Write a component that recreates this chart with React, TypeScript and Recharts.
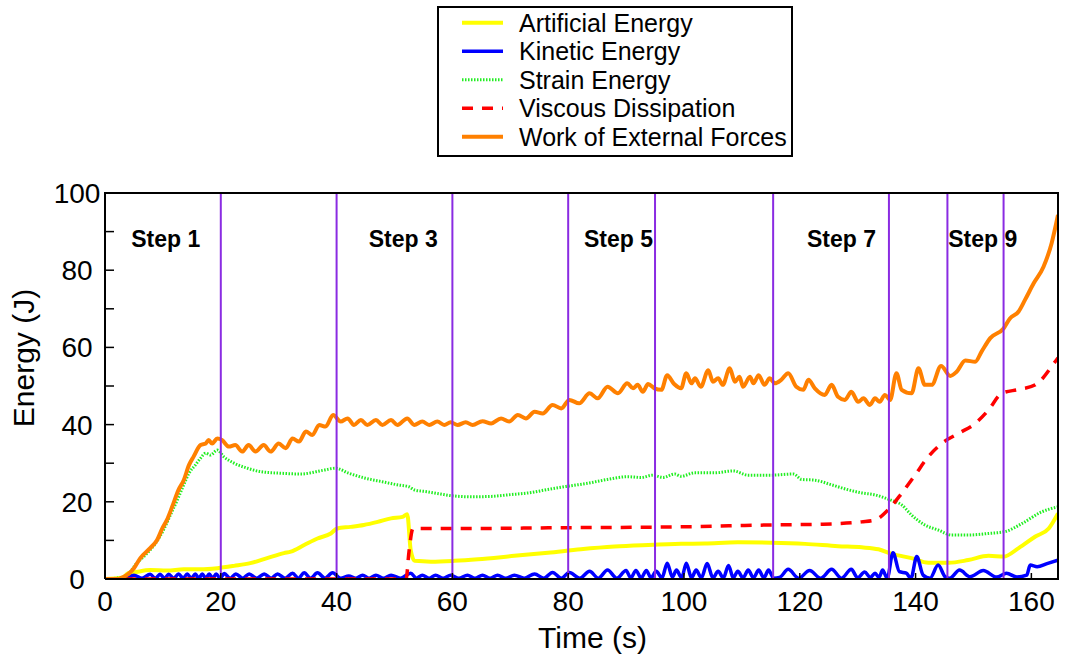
import React from 'react';
import {
  LineChart,
  Line,
  XAxis,
  YAxis,
  ReferenceLine,
  ReferenceDot,
} from 'recharts';

const FONT = '"Liberation Sans", Arial, Helvetica, sans-serif';

// [time (s), energy (J)]
const artificialEnergy = [
  [0, 0], [3.0, 0.3], [4.0, 1.5], [5.0, 1.7], [7.8, 2.3], [10.7, 2.2], [13.6, 2.5], [16.5, 2.5],
  [19.4, 2.8], [22.3, 3.4], [25.1, 4.1], [28.0, 5.4], [30.9, 6.7], [32.1, 7.1], [34.4, 8.8],
  [36.7, 10.5], [39.0, 11.8], [40.1, 13.1], [42.4, 13.5], [44.7, 14.0], [47.1, 14.8], [49.4, 15.7],
  [51.4, 16.1], [52.2, 16.8], [52.8, 7.5], [53.5, 4.7], [56.3, 4.5], [60.3, 4.7], [64.4, 5.1],
  [70.7, 6.0], [76.5, 6.8], [82.2, 7.7], [88.0, 8.4], [93.8, 8.8], [99.5, 9.1], [103.6, 9.2],
  [109.3, 9.5], [115.1, 9.4], [120.9, 9.1], [126.6, 8.5], [130.7, 8.2], [133.6, 7.7], [135.9, 6.5],
  [139.3, 5.4], [142.2, 4.2], [145.7, 4.2], [149.1, 4.9], [152.6, 6.0], [155.2, 5.8], [157.8, 8.0],
  [160.7, 11.0], [163.0, 13.1], [164.6, 17.0],
];

const kineticEnergy = [
  [0, 0], [3.5, 0], [5.0, 1.0], [6.4, 0.2], [7.8, 1.2], [8.7, 0.2], [9.5, 1.2], [10.3, 0.2],
  [11.0, 1.2], [11.9, 0.2], [12.7, 1.3], [13.5, 0.2], [14.2, 1.3], [14.9, 0.2], [15.6, 1.3],
  [16.2, 0.2], [16.8, 1.3], [17.4, 0.2], [18.0, 1.3], [18.6, 0.2], [19.2, 1.3], [19.9, 0.2],
  [20.6, 1.4], [21.6, 0.2], [22.6, 1.3], [23.8, 0.2], [24.9, 1.3], [26.2, 0.2], [27.5, 1.3],
  [28.7, 0.2], [29.8, 1.3], [31.1, 0.2], [32.4, 1.5], [33.4, 0.2], [34.4, 1.6], [35.5, 0.2],
  [36.7, 1.6], [38.0, 0.2], [39.3, 1.6], [40.7, 0.2], [42.1, 0.8], [43.3, 0.2], [44.5, 1.0],
  [45.6, 0.2], [46.8, 1.0], [48.1, 0.2], [49.4, 1.0], [51.0, 0.2], [52.8, 1.5], [53.8, 0.2],
  [54.8, 1.0], [56.0, 0.2], [57.1, 1.0], [58.4, 0.2], [59.7, 1.0], [61.1, 0.2], [62.6, 1.0],
  [63.9, 0.2], [65.2, 1.0], [66.5, 0.2], [67.8, 1.0], [69.2, 0.2], [70.7, 1.0], [72.4, 0.2],
  [74.2, 1.3], [75.8, 0.2], [77.3, 1.7], [78.8, 0.2], [80.2, 1.7], [82.0, 0.2], [83.7, 2.0],
  [85.2, 0.2], [86.8, 2.3], [88.4, 0.2], [90.0, 2.2], [90.8, 0.3], [91.7, 2.2], [92.6, 0.3],
  [93.5, 2.2], [94.3, 0.3], [95.2, 2.0], [96.2, 0.3], [97.1, 4.1], [98.0, 0.5], [98.7, 2.3],
  [99.6, 0.3], [100.4, 4.1], [101.3, 0.3], [102.1, 2.3], [103.0, 0.3], [104.0, 4.0], [105.0, 0.3],
  [105.9, 2.0], [106.8, 0.3], [107.7, 3.5], [108.5, 0.3], [109.3, 2.0], [110.2, 0.3], [111.1, 2.3],
  [112.0, 0.3], [112.9, 2.3], [113.8, 0.3], [114.6, 2.3], [115.5, 0.2], [116.5, 0.4], [118.0, 2.5],
  [119.8, 0.2], [121.7, 2.2], [123.6, 0.2], [125.5, 2.5], [127.2, 0.2], [128.9, 2.5], [130.0, 0.3],
  [131.2, 1.8], [132.2, 0.4], [133.0, 1.5], [133.7, 0.4], [134.3, 2.3], [135.1, 0.2], [136.1, 6.8],
  [137.2, 1.9], [138.4, 1.5], [139.2, 0.2], [140.2, 5.8], [141.3, 1.0], [142.5, 0.2], [143.9, 3.6],
  [145.1, 0.6], [145.9, 0.2], [147.6, 2.3], [149.4, 0.6], [151.7, 2.2], [154.0, 0.5], [155.7, 1.5],
  [157.5, 0.5], [159.2, 1.0], [159.8, 3.6], [161.0, 3.2], [162.7, 4.0], [164.6, 4.9],
];

const strainEnergy = [
  [0, 0], [3.5, 0.6], [5.5, 4.1], [7.3, 6.7], [8.7, 9.2], [10.1, 12.7], [11.3, 16.6], [12.5, 20.5],
  [13.6, 24.4], [14.5, 27.4], [15.6, 29.5], [16.5, 31.3], [17.4, 32.6], [18.2, 32.1], [19.4, 33.4],
  [20.5, 31.7], [22.3, 30.0], [24.6, 28.7], [26.9, 27.8], [30.3, 27.4], [33.8, 27.2], [37.8, 28.2],
  [39.8, 28.7], [42.1, 27.4], [45.0, 26.1], [47.9, 25.2], [50.5, 24.4], [52.5, 23.9], [53.4, 23.1],
  [55.7, 22.6], [58.0, 22.0], [60.3, 21.5], [63.2, 21.3], [66.7, 21.4], [69.6, 21.8], [73.6, 22.4],
  [76.5, 23.2], [80.2, 24.1], [83.4, 24.8], [86.8, 25.8], [90.3, 26.5], [92.6, 26.3], [94.6, 26.9],
  [96.4, 26.3], [98.4, 27.2], [99.5, 26.6], [101.8, 27.5], [105.3, 27.5], [108.5, 28.0],
  [111.1, 26.9], [115.1, 26.9], [118.9, 27.2], [120.3, 25.8], [122.6, 25.6], [125.5, 24.4],
  [128.4, 23.1], [130.7, 22.3], [133.0, 21.8], [135.6, 20.5], [137.6, 19.2], [139.3, 16.6],
  [141.6, 14.0], [143.9, 12.7], [146.2, 11.4], [149.1, 11.4], [152.6, 11.8], [155.5, 12.3],
  [158.4, 14.4], [161.8, 17.4], [164.6, 18.7],
];

const viscousDissipation = [
  [0, 0], [52.0, 0], [52.5, 7.0], [53.2, 13.1], [64.0, 13.1], [80.0, 13.3], [99.0, 13.5],
  [115.0, 14.0], [124.0, 14.2], [130.7, 14.8], [133.0, 15.3], [135.3, 18.0], [137.6, 22.2],
  [139.9, 26.9], [142.2, 31.7], [144.5, 35.1], [147.4, 37.7], [150.3, 40.3], [152.6, 43.8],
  [154.9, 48.1], [157.8, 49.1], [160.7, 50.3], [164.1, 56.3], [164.6, 57.3],
];

const workOfExternalForces = [
  [0, 0], [2.3, 0], [2.7, 0.2], [5.0, 2.8], [6.1, 5.4], [7.8, 8.0], [9.0, 10.1], [9.9, 13.1],
  [10.7, 15.3], [11.6, 18.7], [12.7, 23.1], [13.6, 25.6], [14.5, 29.5], [15.3, 31.7], [16.5, 34.7],
  [17.4, 35.1], [17.9, 36.0], [18.5, 35.1], [19.4, 36.4], [20.2, 36.0], [21.4, 34.3], [22.5, 34.7],
  [23.7, 33.0], [24.8, 34.7], [26.0, 33.0], [27.4, 34.7], [28.6, 33.0], [30.0, 35.1], [31.2, 33.9],
  [32.4, 36.4], [33.5, 35.6], [34.7, 38.2], [35.8, 37.3], [37.0, 39.9], [38.1, 39.5], [39.4, 42.5],
  [40.7, 40.8], [41.9, 41.6], [43.0, 39.9], [44.2, 41.2], [45.3, 39.9], [46.8, 41.2], [47.9, 39.9],
  [49.4, 41.2], [50.5, 39.9], [52.2, 41.6], [53.4, 39.9], [54.8, 40.8], [56.0, 39.9], [57.4, 40.8],
  [58.6, 39.9], [59.7, 40.6], [60.9, 39.9], [62.3, 40.6], [63.5, 39.9], [65.2, 40.9], [66.7, 40.3],
  [68.4, 41.6], [69.8, 40.8], [71.3, 42.5], [72.7, 41.6], [74.2, 43.3], [75.6, 42.9], [77.3, 45.1],
  [78.8, 44.2], [80.2, 46.4], [81.9, 45.5], [83.7, 48.1], [85.1, 46.8], [86.8, 49.8], [88.6, 48.1],
  [90.2, 50.7], [91.2, 49.4], [92.0, 50.3], [92.9, 48.5], [93.8, 50.5], [94.9, 49.4], [96.1, 49.0],
  [97.1, 52.8], [98.3, 50.5], [99.5, 49.4], [100.4, 53.3], [101.3, 50.7], [101.9, 52.0],
  [102.9, 49.8], [104.2, 54.1], [105.0, 51.1], [105.9, 52.0], [106.7, 50.3], [107.9, 54.6],
  [108.8, 51.1], [109.6, 52.4], [110.2, 49.8], [111.4, 52.4], [112.0, 50.7], [112.9, 52.8],
  [113.9, 50.3], [114.8, 52.0], [115.7, 50.7], [116.8, 51.6], [118.0, 53.3], [119.4, 49.8],
  [120.6, 49.0], [121.5, 51.6], [122.6, 49.4], [124.3, 47.7], [125.5, 50.3], [126.6, 47.2],
  [127.8, 46.4], [128.9, 48.5], [130.1, 45.9], [131.0, 46.8], [132.1, 45.1], [133.0, 46.8],
  [133.8, 45.9], [134.7, 47.7], [135.6, 46.4], [136.7, 53.3], [137.6, 49.0], [139.3, 48.1],
  [140.5, 54.6], [141.6, 50.3], [142.8, 50.3], [144.4, 55.2], [146.0, 52.6], [147.1, 53.7],
  [148.6, 56.6], [150.3, 56.3], [151.4, 58.9], [152.9, 62.4], [155.2, 64.9], [156.3, 67.5],
  [157.8, 69.3], [158.9, 72.3], [160.4, 76.6], [162.1, 80.9], [163.5, 87.0], [164.6, 94.3],
];

const stepBoundaries = [20, 40, 60, 80, 95, 115.4, 135.4, 145.5, 155.2];
const stepLabels = ['Step 1', 'Step 3', 'Step 5', 'Step 7', 'Step 9'];
const stepLabelTimes = [10.5, 51.5, 88.7, 127.2, 151.6];
const stepLabelEnergy = 88;

const timeMax = 164.6;
const energyMax = 100;
const timeTicks = [0, 20, 40, 60, 80, 100, 120, 140, 160];
const energyTicks = [0, 10, 20, 30, 40, 50, 60, 70, 80, 90, 100];

const series = [
  { name: 'Artificial Energy', data: artificialEnergy, color: '#ffff00', width: 4, dash: undefined },
  { name: 'Kinetic Energy', data: kineticEnergy, color: '#0000ff', width: 3.5, dash: undefined },
  { name: 'Strain Energy', data: strainEnergy, color: '#22ee22', width: 3, dash: '1.5 1.5' },
  { name: 'Viscous Dissipation', data: viscousDissipation, color: '#ff0000', width: 3.5, dash: '11 9' },
  { name: 'Work of External Forces', data: workOfExternalForces, color: '#ff8000', width: 4, dash: undefined },
];

const CHART_W = 1069;
const CHART_H = 662;
const margin = { top: 193, right: 11, bottom: 0, left: 0 };
const yAxisWidth = 105;
const xAxisHeight = 83;

const toRows = (pairs: number[][]) => pairs.map(([t, e]) => ({ t, e }));

// only every other tick carries a number; the ones between are bare marks
const EnergyTick = (props: any) => {
  const { x, y, payload } = props;
  if (payload.value % 20 !== 0) return <g />;
  return (
    <text x={x - 25} y={y} dy="0.36em" textAnchor="middle" fontSize={28} fontFamily={FONT} fill="#000">
      {payload.value}
    </text>
  );
};

const EnergyTitle = (props: any) => {
  const { viewBox } = props;
  const x = viewBox.x + 34;
  const y = viewBox.y + viewBox.height / 2 - 28;
  return (
    <text x={x} y={y} transform={`rotate(-90, ${x}, ${y})`} textAnchor="middle" fontSize={30} fontFamily={FONT} fill="#000">
      Energy (J)
    </text>
  );
};

const TimeTitle = (props: any) => {
  const { viewBox } = props;
  return (
    <text x={viewBox.x + viewBox.width / 2 + 11} y={viewBox.y + 69} textAnchor="middle" fontSize={30} fontFamily={FONT} fill="#000">
      Time (s)
    </text>
  );
};

function EnergyLegend() {
  return (
    <svg width={CHART_W} height={170} style={{ position: 'absolute', left: 0, top: 0 }}>
      <rect x={438} y={7} width={354} height={149} fill="#fff" stroke="#000" strokeWidth={2} />
      {series.map((s, i) => {
        const y = 22.7 + i * 28.5;
        return (
          <g key={s.name}>
            <line x1={462} x2={503} y1={y} y2={y} stroke={s.color} strokeWidth={s.width} strokeDasharray={s.dash} />
            <text x={519} y={y} dy="0.36em" fontSize={25} fontFamily={FONT} fill="#000">
              {s.name}
            </text>
          </g>
        );
      })}
    </svg>
  );
}

// closes the plot box on the top and right, matching the axis lines
function PlotFrame() {
  const left = margin.left + yAxisWidth - 1;
  const top = margin.top - 1;
  const width = CHART_W - margin.right - margin.left - yAxisWidth + 2;
  const height = CHART_H - margin.top - margin.bottom - xAxisHeight + 2;
  return (
    <div
      style={{
        position: 'absolute',
        left,
        top,
        width,
        height,
        boxSizing: 'border-box',
        borderTop: '2px solid #000',
        borderRight: '2px solid #000',
        pointerEvents: 'none',
      }}
    />
  );
}

export default function App() {
  return (
    <div style={{ position: 'relative', width: CHART_W, height: CHART_H, background: '#fff' }}>
      <style>{'body { margin: 0; }'}</style>
      <LineChart width={CHART_W} height={CHART_H} margin={margin}>
        <XAxis
          dataKey="t"
          type="number"
          domain={[0, timeMax]}
          ticks={timeTicks}
          interval={0}
          allowDataOverflow
          height={xAxisHeight}
          tickSize={-6}
          tickMargin={18}
          axisLine={{ stroke: '#000', strokeWidth: 2 }}
          tickLine={{ stroke: '#000', strokeWidth: 1.5 }}
          tick={{ fill: '#000', fontSize: 28, fontFamily: FONT }}
          label={<TimeTitle />}
        />
        <YAxis
          type="number"
          domain={[0, energyMax]}
          ticks={energyTicks}
          interval={0}
          allowDataOverflow
          width={yAxisWidth}
          tickSize={-9}
          tickMargin={12}
          axisLine={{ stroke: '#000', strokeWidth: 2 }}
          tickLine={{ stroke: '#000', strokeWidth: 1.5 }}
          tick={<EnergyTick />}
          label={<EnergyTitle />}
        />
        {series.map((s) => (
          <Line
            key={s.name}
            name={s.name}
            data={toRows(s.data)}
            dataKey="e"
            type="monotone"
            stroke={s.color}
            strokeWidth={s.width}
            strokeDasharray={s.dash}
            dot={false}
            activeDot={false}
            isAnimationActive={false}
          />
        ))}
        {stepBoundaries.map((t) => (
          <ReferenceLine key={t} x={t} stroke="#8a2be2" strokeWidth={2} />
        ))}
        {stepLabels.map((label, i) => (
          <ReferenceDot
            key={label}
            x={stepLabelTimes[i]}
            y={stepLabelEnergy}
            r={0}
            fill="none"
            stroke="none"
            label={{ value: label, position: 'center', fontSize: 23, fontWeight: 'bold', fill: '#000', fontFamily: FONT }}
          />
        ))}
      </LineChart>
      <PlotFrame />
      <EnergyLegend />
    </div>
  );
}
